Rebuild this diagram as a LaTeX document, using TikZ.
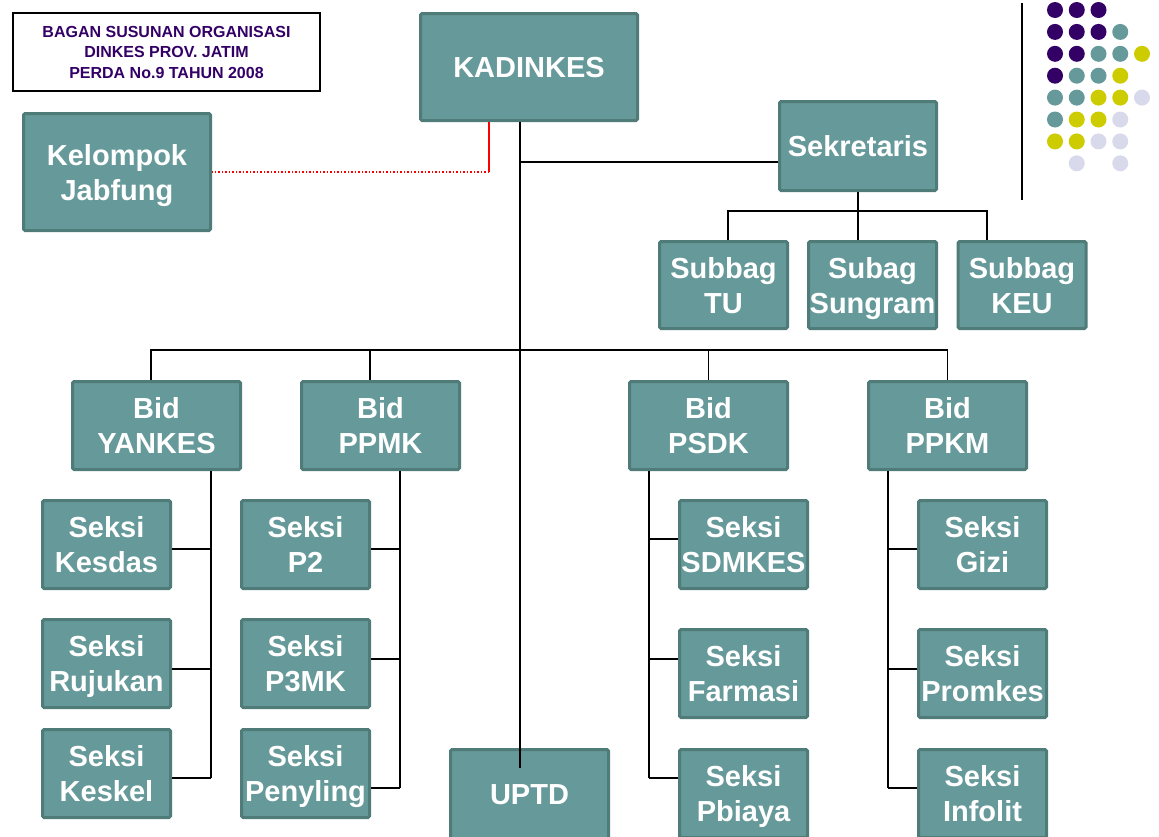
\documentclass[tikz,border=0pt]{standalone}
\usepackage{fontspec}
\setmainfont{Liberation Sans}
\definecolor{boxfill}{HTML}{669999}
\definecolor{boxline}{HTML}{4F7C79}
\definecolor{ungu}{HTML}{330066}
\definecolor{hijau}{HTML}{669999}
\definecolor{kuning}{HTML}{CCCC00}
\definecolor{lila}{HTML}{D9D9EC}
\newcommand{\boxfont}{\bfseries\fontsize{29}{35}\selectfont}
\begin{document}
\begin{tikzpicture}[x=1pt,y=-1pt,
  box/.style={draw=boxline,fill=boxfill,line width=3pt,rounded corners=1.5pt,text=white,font=\boxfont,align=center,inner sep=0pt,text depth=0pt},
  seksi/.style={box,minimum width=128pt,minimum height=88pt},
  bid/.style={box,minimum width=158pt,minimum height=88pt},
  conn/.style={line width=1.6pt,black}]
\useasboundingbox (0,0) rectangle (1159,836);
% judul
\node[draw,line width=1.5pt,minimum width=307pt,minimum height=78pt,text=ungu,align=center,inner sep=0pt,
  font=\bfseries\fontsize{16}{20.5}\selectfont] (judul) at (166.5,52) {BAGAN SUSUNAN ORGANISASI\\DINKES PROV. JATIM\\PERDA No.9 TAHUN 2008};
% pimpinan dan sekretariat
\node[box,minimum width=217pt,minimum height=107pt] (kadinkes) at (529,67) {KADINKES};
\node[box,minimum width=187pt,minimum height=117pt] (jabfung) at (117,172) {Kelompok\\Jabfung};
\node[box,minimum width=157pt,minimum height=89pt] (sekr) at (858,146) {Sekretaris};
\node[seksi,minimum height=87pt] (tu) at (723.5,285) {Subbag\\TU};
\node[seksi,minimum height=87pt] (sungram) at (872.5,285) {Subag\\Sungram};
\node[seksi,minimum height=87pt] (keu) at (1022,285) {Subbag\\KEU};
% bidang
\node[bid,minimum width=168pt] (yankes) at (156.5,425.5) {Bid\\YANKES};
\node[bid] (ppmk) at (380.5,425.5) {Bid\\PPMK};
\node[bid] (psdk) at (708.5,425.5) {Bid\\PSDK};
\node[bid] (ppkm) at (947.5,425.5) {Bid\\PPKM};
\node[bid,minimum height=91pt] (uptd) at (529.5,795) {UPTD};
% seksi
\foreach \nama/\x/\y/\teks in {kesdas/106.5/544.5/Kesdas,rujukan/106.5/663.5/Rujukan,keskel/106.5/773.5/Keskel,
  p2/305.5/544.5/P2,p3mk/305.5/663.5/P3MK,penyling/305.5/773.5/Penyling,
  sdmkes/743.5/544.5/SDMKES,farmasi/743.5/673.5/Farmasi,pbiaya/743.5/793.5/Pbiaya,
  gizi/982.5/544.5/Gizi,promkes/982.5/673.5/Promkes,infolit/982.5/793.5/Infolit}
  \node[seksi] (\nama) at (\x,\y) {Seksi\\\teks};
% garis komando
\coordinate (cabang) at (520,162);
\coordinate (bar) at (0,350);
\coordinate (subbar) at (0,211);
\draw[conn] (kadinkes.south -| cabang) -- ([yshift=-20pt]uptd.north -| cabang);
\draw[conn] (cabang) -- (cabang -| sekr.west);
\draw[conn] (sekr.south) -- (sekr.south |- sungram.north);
\draw[conn] ([xshift=4.5pt]tu.north) |- ([xshift=-35pt]keu.north |- subbar) -- ([xshift=-35pt]keu.north);
\draw[conn] ([xshift=-5.5pt]yankes.north) |- (ppkm.north |- bar) -- (ppkm.north);
\draw[conn] ([xshift=-10.5pt]ppmk.north) -- ([xshift=-10.5pt]ppmk.north |- bar);
\draw[conn] (psdk.north) -- (psdk.north |- bar);
\foreach \b/\sx/\ey in {yankes/211/778,ppmk/400/788,psdk/649/778,ppkm/888/788}
  \draw[conn] (\b.south -| \sx,0) -- (\sx,\ey);
\foreach \s/\side/\sx/\by in {kesdas/east/211/549,rujukan/east/211/669,keskel/east/211/778,
  p2/east/400/549,p3mk/east/400/659,penyling/east/400/788,
  sdmkes/west/649/539,farmasi/west/649/659,pbiaya/west/649/778,
  gizi/west/888/549,promkes/west/888/669,infolit/west/888/788}
  \draw[conn] (\s.\side |- 0,\by) -- (\sx,\by);
% garis koordinasi
\coordinate (merah) at (489,0);
\draw[red,line width=1.5pt] (kadinkes.south -| merah) -- (jabfung.east -| merah);
\draw[red,dotted,line width=1.5pt] (jabfung.east -| merah) -- (jabfung.east);
% hiasan
\draw[line width=2pt] (1022,3) -- (1022,200);
\foreach \baris [count=\j from 0] in {{ungu,ungu,ungu,none,none},{ungu,ungu,ungu,hijau,none},
  {ungu,ungu,hijau,hijau,kuning},{ungu,hijau,hijau,kuning,none},{hijau,hijau,kuning,kuning,lila},
  {hijau,kuning,kuning,lila,none},{kuning,kuning,lila,lila,none},{none,lila,none,lila,none}}
  \foreach \warna [count=\i from 0] in \baris
    \fill[fill=\warna] (1055+21.75*\i,10+21.9*\j) circle (8pt);
\end{tikzpicture}
\end{document}
